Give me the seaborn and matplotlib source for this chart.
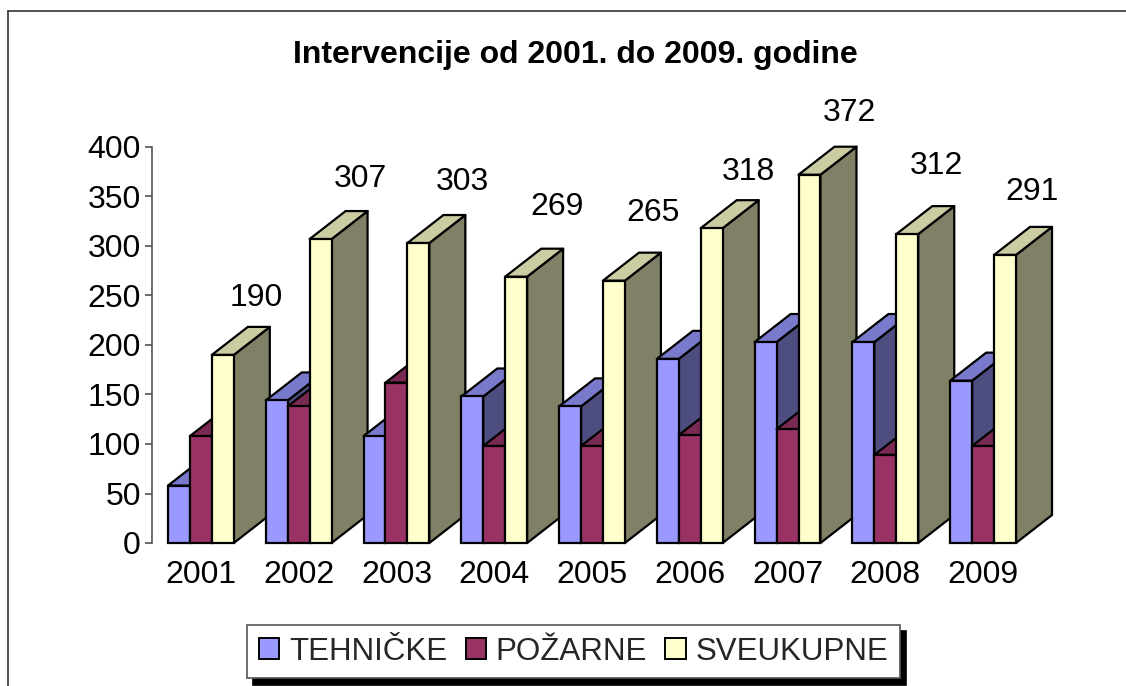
import numpy as np
import pandas as pd
import seaborn as sns
import matplotlib.pyplot as plt
from matplotlib.lines import Line2D
from matplotlib.patches import Polygon
from matplotlib.colors import to_rgb

W, H = 1126, 686

years = ['2001', '2002', '2003', '2004', '2005', '2006', '2007', '2008', '2009']
tehnicke = [58, 144, 108, 148, 138, 186, 203, 203, 164]
pozarne = [108, 138, 162, 98, 98, 109, 115, 89, 98]
sveukupne = [190, 307, 303, 269, 265, 318, 372, 312, 291]
series = ['TEHNIČKE', 'POŽARNE', 'SVEUKUPNE']
colors = ['#9999FF', '#993366', '#FFFFCC']

# pomak natpisa od vrha zutog stupca (px)
label_dx = [33, 40, 44, 41, 39, 37, 40, 29, 27]
label_dy = [57, 60, 61, 70, 68, 56, 62, 68, 63]

sns.set_theme(style='white')
plt.rcParams['font.family'] = ['Liberation Sans', 'DejaVu Sans']

df = pd.DataFrame({
    'godina': years * 3,
    'vrsta': np.repeat(series, len(years)),
    'broj': tehnicke + pozarne + sveukupne,
})

fig = plt.figure(figsize=(W / 100, H / 100), dpi=100, facecolor='white')
ax = fig.add_axes([152 / W, 1 - 543 / H, 880 / W, 396 / H])

sns.barplot(data=df, x='godina', y='broj', hue='vrsta', palette=colors, width=0.673,
            gap=0, dodge=True, saturation=1, legend=False, ax=ax)

ax.set_xlim(-0.5, 8.5)
ax.set_ylim(0, 400)
ax.set_yticks(range(0, 401, 50))
ax.set_xlabel('')
ax.set_ylabel('')
ax.patch.set_alpha(0)
sns.despine(ax=ax, bottom=True)
ax.spines['left'].set_color('#555555')
ax.spines['left'].set_linewidth(1.2)
ax.tick_params(axis='y', left=True, length=5, width=1.2, color='#555555', labelsize=23, pad=3,
               labelcolor='black')
ax.tick_params(axis='x', bottom=False, labelsize=23, pad=6, labelcolor='black')

# dubina stupaca u jedinicama osi
dx = 36 / (880 / 9)
dy = 28 / (396 / 400)

bars = [p for p in ax.patches if p.get_height() > 0]
n = len(years)
for i, bar in enumerate(bars):
    s, g = i // n, i % n
    x0, x1 = bar.get_x(), bar.get_x() + bar.get_width()
    h = bar.get_height()
    z = 3 + g * 3 + s * 0.3
    rgb = np.array(to_rgb(colors[s]))
    edge = dict(edgecolor='black', linewidth=1.6, joinstyle='round', clip_on=False)
    side = Polygon([(x1, 0), (x1 + dx, dy), (x1 + dx, h + dy), (x1, h)],
                   facecolor=rgb * 0.5, zorder=z, **edge)
    top = Polygon([(x0, h), (x1, h), (x1 + dx, h + dy), (x0 + dx, h + dy)],
                  facecolor=rgb * 0.8, zorder=z + 0.01, **edge)
    ax.add_patch(side)
    ax.add_patch(top)
    bar.set_edgecolor('black')
    bar.set_linewidth(1.6)
    bar.set_clip_on(False)
    bar.set_zorder(z + 0.02)

# natpisi vrijednosti
for g, v in enumerate(sveukupne):
    yellow = bars[2 * n + g]
    xc = yellow.get_x() + yellow.get_width() / 2 + label_dx[g] * 9 / 880
    ax.annotate(str(v), xy=(xc, v), xytext=(0, label_dy[g] * 0.72), textcoords='offset points',
                ha='center', va='center', fontsize=23, color='black', annotation_clip=False,
                zorder=100)

fig.text(575 / W, 1 - 55 / H, 'Intervencije od 2001. do 2009. godine', ha='center', va='center',
         fontsize=23, fontweight='bold', color='black')

# okvir grafikona (samo lijevi i gornji rub)
for xs, ys in [((8, 8), (686, 11)), ((8, 1126), (11, 11))]:
    fig.add_artist(Line2D([x / W for x in xs], [1 - y / H for y in ys], color='#333333', linewidth=1.2))

handles = [plt.Rectangle((0, 0), 1, 1, facecolor=c, edgecolor='black', linewidth=1.4) for c in colors]
leg = fig.legend(handles, series, loc='center', bbox_to_anchor=(573.5 / W, 1 - 651.5 / H), ncol=3,
                 fontsize=22.5, frameon=True, fancybox=False, framealpha=1, edgecolor='#555555',
                 facecolor='white', shadow={'ox': 4.5, 'oy': -4.5, 'color': 'black', 'alpha': 1},
                 handlelength=0.65, handleheight=0.65, handletextpad=0.3, columnspacing=0.6,
                 borderpad=0.38, borderaxespad=0)
leg.get_frame().set_linewidth(1.2)

fig.savefig('out.png', dpi=100)
